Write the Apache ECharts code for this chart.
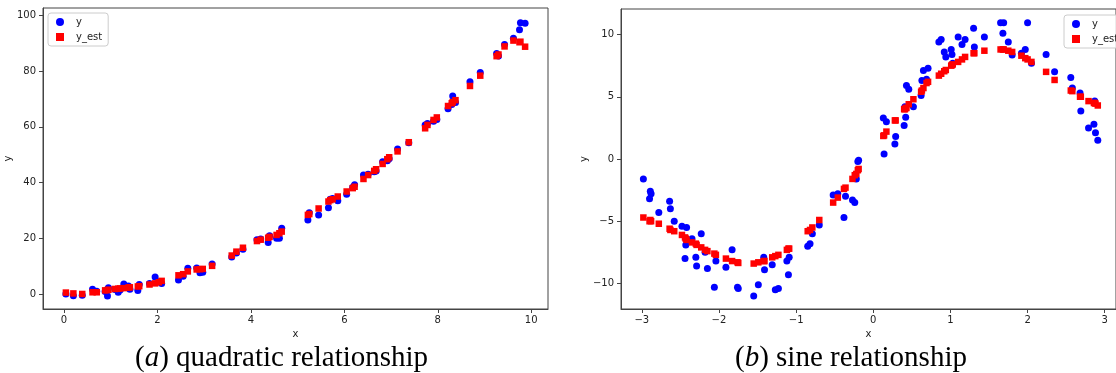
<!DOCTYPE html>
<html>
<head>
<meta charset="utf-8">
<script src="https://cdn.jsdelivr.net/npm/echarts@6/dist/echarts.min.js"></script>
<style>
  html, body { margin: 0; padding: 0; background: #fff; }
  #chart { width: 1116px; height: 373px; }
</style>
</head>
<body>
<div id="chart"></div>
<script>
// (a) quadratic relationship: x, observed y, estimated y
const quadX = [0.04, 0.20, 0.39, 0.61, 0.70, 0.88, 0.93, 0.95, 1.09, 1.16, 1.20, 1.28, 1.38, 1.41, 1.58, 1.61,
  1.83, 1.95, 2.03, 2.09, 2.45, 2.55, 2.65, 2.84, 2.91, 2.97, 3.17, 3.59, 3.69, 3.83, 4.13, 4.21, 4.37, 4.40,
  4.55, 4.61, 4.66, 5.22, 5.25, 5.45, 5.66, 5.70, 5.75, 5.86, 6.05, 6.18, 6.22, 6.41, 6.51, 6.64, 6.68, 6.82,
  6.92, 6.96, 7.14, 7.38, 7.73, 7.78, 7.91, 7.98, 8.22, 8.30, 8.32, 8.38, 8.69, 8.91, 9.26, 9.30, 9.43, 9.62,
  9.75, 9.77, 9.87];
const quadY = [0.0, -0.6, -0.5, 1.7, 1.0, 0.9, -0.7, 2.2, 1.6, 0.6, 1.4, 3.6, 2.9, 1.7, 1.2, 3.4,
  3.8, 6.1, 4.4, 3.8, 5.0, 6.4, 9.2, 9.3, 7.6, 7.8, 10.8, 13.3, 14.7, 16.1, 19.5, 19.7, 18.5, 20.9,
  20.0, 20.0, 23.6, 26.6, 29.2, 28.4, 31.0, 34.0, 34.3, 33.5, 35.8, 38.3, 39.2, 42.7, 43.0, 43.9, 44.2, 47.5,
  47.8, 48.6, 52.1, 54.3, 60.7, 61.2, 62.0, 62.7, 66.5, 68.0, 71.1, 68.8, 76.2, 79.5, 86.4, 85.5, 89.6, 91.8,
  94.9, 97.4, 97.2];
const quadYEst = [0.5, 0.2, 0.0, 0.6, 0.6, 1.3, 1.4, 1.5, 1.8, 1.9, 2.0, 2.1, 2.3, 2.4, 2.7, 2.8,
  3.4, 3.8, 4.2, 4.7, 6.7, 7.1, 8.1, 8.8, 8.9, 9.0, 10.1, 13.8, 15.2, 16.6, 19.0, 19.5, 20.2, 20.5,
  21.2, 21.8, 22.4, 28.4, 28.7, 30.7, 33.2, 33.7, 34.0, 35.0, 36.8, 38.0, 38.5, 41.3, 42.7, 44.2, 44.8, 46.7,
  48.4, 49.1, 51.2, 54.5, 59.5, 60.7, 62.5, 63.4, 67.5, 68.5, 68.9, 69.6, 74.7, 78.4, 85.4, 86.0, 88.9, 91.0,
  90.4, 90.6, 88.8];

// (b) sine relationship: x, observed y, estimated y
const sineX = [-2.98, -2.89, -2.88, -2.90, -2.78, -2.64, -2.63, -2.58, -2.48, -2.44, -2.43, -2.42, -2.35, -2.30,
  -2.29, -2.23, -2.18, -2.15, -2.06, -2.04, -1.91, -1.83, -1.76, -1.75, -1.55, -1.49, -1.42, -1.41, -1.31,
  -1.27, -1.23, -1.12, -1.09, -1.10, -0.85, -0.82, -0.79, -0.70, -0.52, -0.46, -0.38, -0.36, -0.27, -0.24,
  -0.22, -0.20, -0.19, 0.13, 0.14, 0.17, 0.28, 0.29, 0.40, 0.41, 0.42, 0.43, 0.46, 0.52, 0.62, 0.63, 0.65,
  0.69, 0.71, 0.85, 0.88, 0.92, 0.94, 1.01, 1.02, 1.03, 1.10, 1.15, 1.19, 1.30, 1.31, 1.44, 1.65, 1.68, 1.69,
  1.75, 1.80, 1.92, 1.97, 2.00, 2.05, 2.24, 2.35, 2.56, 2.58, 2.68, 2.69, 2.79, 2.86, 2.87, 2.88, 2.91];
const sineY = [-1.6, -2.6, -2.8, -3.2, -4.3, -3.4, -4.0, -5.0, -5.4, -8.0, -6.9, -5.5, -6.4, -7.9,
  -8.6, -6.0, -7.5, -8.8, -10.3, -8.2, -8.7, -7.3, -10.3, -10.4, -11.0, -10.1, -7.9, -8.9, -8.5,
  -10.5, -10.4, -8.2, -7.9, -9.3, -7.0, -6.8, -6.0, -5.3, -2.9, -2.8, -4.7, -3.0, -3.3, -3.5,
  -1.6, -0.2, -0.1, 3.3, 0.4, 3.0, 1.2, 1.8, 2.7, 4.2, 3.35, 5.9, 5.6, 4.2, 5.1, 6.3, 7.1,
  6.4, 7.3, 9.4, 9.6, 8.6, 8.2, 8.8, 8.4, 7.7, 9.8, 9.2, 9.6, 10.5, 9.0, 9.8, 10.95, 10.1, 10.95,
  9.4, 8.35, 8.5, 8.8, 10.95, 7.7, 8.4, 7.0, 6.55, 5.7, 5.3, 3.85, 2.5, 2.8, 4.65, 2.1, 1.5];
const sineYEst = [-4.7, -4.9, -5.0, -5.0, -5.2, -5.6, -5.7, -5.8, -6.1, -6.3, -6.4, -6.5, -6.7, -6.8,
  -6.9, -7.1, -7.3, -7.4, -7.6, -7.7, -8.0, -8.2, -8.3, -8.35, -8.4, -8.3, -8.2, -8.2, -7.9,
  -7.8, -7.7, -7.3, -7.2, -7.2, -5.8, -5.7, -5.5, -4.9, -3.5, -3.1, -2.4, -2.3, -1.6, -1.3,
  -1.2, -0.9, -0.8, 1.85, 1.9, 2.2, 3.1, 3.1, 4.0, 4.0, 4.1, 4.1, 4.4, 4.8, 5.4, 5.5, 5.7,
  6.1, 6.2, 6.7, 6.85, 7.05, 7.15, 7.5, 7.55, 7.6, 7.8, 8.0, 8.2, 8.5, 8.5, 8.7, 8.8, 8.8, 8.8,
  8.7, 8.6, 8.3, 8.1, 8.0, 7.8, 7.0, 6.35, 5.5, 5.45, 5.0, 5.0, 4.65, 4.5, 4.5, 4.45, 4.3];

// tick labels
const quadXTicks = [0, 2, 4, 6, 8, 10];
const quadYTicks = [0, 20, 40, 60, 80, 100];
const sineXTicks = [-3, -2, -1, 0, 1, 2, 3];
const sineYTicks = [-10, -5, 0, 5, 10];

const captions = ["quadratic relationship", "sine relationship"];

const pairs = (xs, ys) => xs.map((x, i) => [x, ys[i]]);
const fmt = (v) => (v < 0 ? "\u2212" + -v : String(v));

const axisCommon = {
  type: "value",
  scale: true,
  splitLine: { show: false },
  axisLine: { show: true, onZero: false, lineStyle: { color: "#444", width: 1 } },
  axisTick: { show: true, length: 4, lineStyle: { color: "#444" } },
  nameTextStyle: { fontFamily: "DejaVu Sans", fontSize: 10, color: "#222" },
};

function xAxis(grid, min, max, ticks) {
  return Object.assign({}, axisCommon, {
    gridIndex: grid, min, max, name: "x", nameLocation: "middle", nameGap: 20,
    axisTick: Object.assign({}, axisCommon.axisTick, { customValues: ticks }),
    axisLabel: { customValues: ticks, formatter: fmt, margin: 6,
      fontFamily: "DejaVu Sans", fontSize: 10, color: "#222" },
  });
}
function yAxis(grid, min, max, ticks, gap) {
  return Object.assign({}, axisCommon, {
    gridIndex: grid, min, max, name: "y", nameLocation: "middle", nameGap: gap,
    axisTick: Object.assign({}, axisCommon.axisTick, { customValues: ticks }),
    axisLabel: { customValues: ticks, formatter: fmt, margin: 7,
      fontFamily: "DejaVu Sans", fontSize: 10, color: "#222" },
  });
}

function legend(left, top) {
  return {
    left, top, orient: "vertical",
    data: ["y", "y_est"],
    itemWidth: 8, itemHeight: 8, itemGap: 5,
    padding: [4, 6, 4, 8],
    backgroundColor: "rgba(255,255,255,0.8)",
    borderColor: "#ccc", borderWidth: 1, borderRadius: 3,
    selectedMode: false,
    textStyle: { fontFamily: "DejaVu Sans", fontSize: 10, color: "#222", padding: [0, 0, 0, 7] },
  };
}

function scatter(name, data, xi, symbol, color) {
  return {
    name, type: "scatter", xAxisIndex: xi, yAxisIndex: xi, data,
    symbol, symbolSize: symbol === "circle" ? 7 : 6.5,
    itemStyle: { color, opacity: 1 },
    animation: false, silent: true,
  };
}

const captionRich = {
  n: { fontFamily: "Liberation Serif", fontSize: 29, fill: "#000" },
  i: { fontFamily: "Liberation Serif", fontStyle: "italic", fontSize: 29, fill: "#000" },
};

const chart = echarts.init(document.getElementById("chart"), null, { renderer: "canvas" });
chart.setOption({
  backgroundColor: "#fff",
  animation: false,
  grid: [
    { left: 43, top: 8, width: 505, height: 301, show: true, borderColor: "#444", borderWidth: 1 },
    // the right panel is cut off by the image edge, its right spine is not visible
    { left: 621, top: 9, width: 496, height: 300, show: true, borderColor: "#444", borderWidth: 1 },
  ],
  xAxis: [xAxis(0, -0.45, 10.36, quadXTicks), xAxis(1, -3.27, 3.146, sineXTicks)],
  yAxis: [yAxis(0, -5.4, 102.7, quadYTicks, 26), yAxis(1, -12.05, 12.05, sineYTicks, 29)],
  legend: [legend(48, 13), legend(1064, 15)],
  series: [
    scatter("y", pairs(quadX, quadY), 0, "circle", "#0000ff"),
    scatter("y_est", pairs(quadX, quadYEst), 0, "rect", "#ff0000"),
    scatter("y", pairs(sineX, sineY), 1, "circle", "#0000ff"),
    scatter("y_est", pairs(sineX, sineYEst), 1, "rect", "#ff0000"),
  ],
  graphic: [
    { type: "text", left: 135, top: 344, style: { text: "{n|(}{i|a}{n|) " + captions[0] + "}", rich: captionRich } },
    { type: "text", left: 735, top: 344, style: { text: "{n|(}{i|b}{n|) " + captions[1] + "}", rich: captionRich } },
  ],
});
</script>
</body>
</html>
